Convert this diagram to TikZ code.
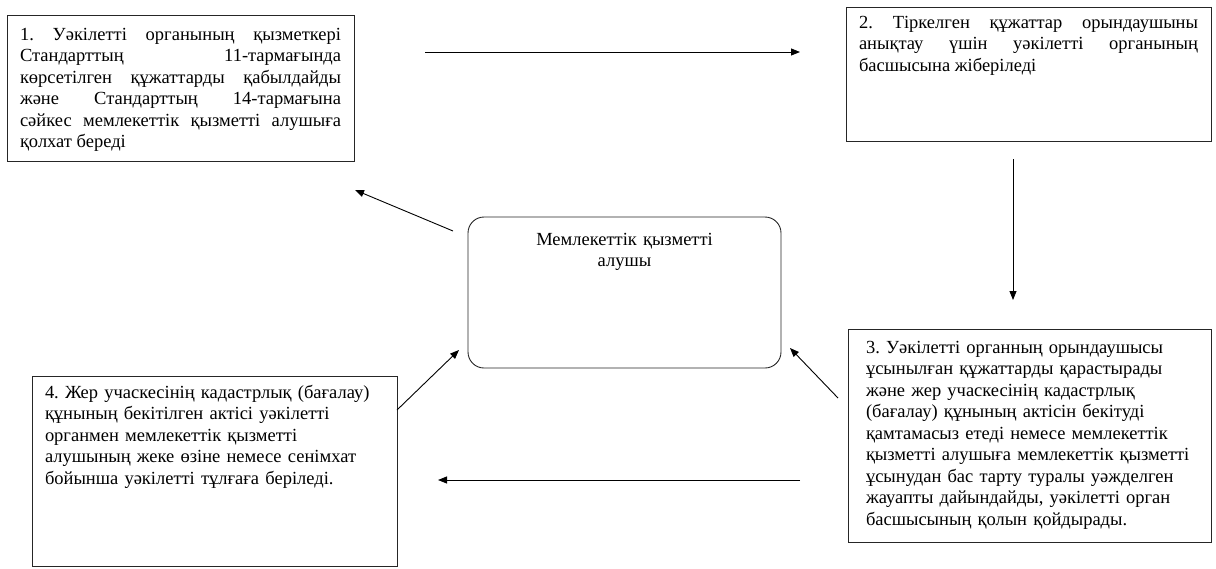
\documentclass[tikz,border=0pt]{standalone}
\usepackage{fontspec}
\setmainfont{Liberation Serif}
\usetikzlibrary{arrows.meta}

\begin{document}
\begin{tikzpicture}[x=1pt, y=-1pt, >={Triangle[length=9pt,width=7pt]},
  blk/.style={draw=black!85, line width=0.9pt, anchor=north west, outer sep=0pt,
    inner ysep=0pt, inner xsep=13pt, font=\fontsize{18.5}{21.5}\selectfont},
  lnk/.style={->, line width=0.9pt}]
\useasboundingbox (0,0) rectangle (1216,568);
\node[blk, text width=321pt, align=justify, text height=25pt, text depth=121pt] (s1) at (7,15)
  {1.\ Уәкілетті органының қызметкері\linebreak
   Стандарттың 11-тармағында\linebreak
   көрсетілген құжаттарды қабылдайды\linebreak
   және Стандарттың 14-тармағына\linebreak
   сәйкес мемлекеттік қызметті алушыға\linebreak
   қолхат береді};
\node[blk, text width=339pt, align=justify, text height=21pt, text depth=113pt] (s2) at (846,7)
  {2.\ Тіркелген құжаттар орындаушыны\linebreak
   анықтау үшін уәкілетті органының\linebreak
   басшысына жіберіледі};
\node[blk, inner xsep=2pt, text width=359pt, align=left, text height=24pt, text depth=189pt] (s3) at (848,329)
  {\hspace*{16pt}\parbox[t]{343pt}{\raggedright
   3.\ Уәкілетті органның орындаушысы\\
   ұсынылған құжаттарды қарастырады\\
   және жер учаскесінің кадастрлық\\
   (бағалау) құнының актісін бекітуді\\
   қамтамасыз етеді немесе мемлекеттік\\
   қызметті алушыға мемлекеттік қызметті\\
   ұсынудан бас тарту туралы уәжделген\\
   жауапты дайындайды, уәкілетті орган\\
   басшысының қолын қойдырады.}};
\node[blk, text width=339pt, align=left, text height=22pt, text depth=168pt] (s4) at (32,376)
  {4.\ Жер учаскесінің кадастрлық (бағалау)\\
   құнының бекітілген актісі уәкілетті\\
   органмен мемлекеттік қызметті\\
   алушының жеке өзіне немесе сенімхат\\
   бойынша уәкілетті тұлғаға беріледі.};
\node[blk, rounded corners=16pt, text width=287pt, align=center, text height=28pt, text depth=123pt] (rcv) at (468,217)
  {Мемлекеттік қызметті\\ алушы};

\draw[lnk] ([xshift=71pt,yshift=-37pt]s1.north east) -- ([xshift=-46pt,yshift=-45pt]s2.north west);
\draw[lnk] ([xshift=-15.5pt,yshift=-18pt]s2.south) -- ([xshift=-16.5pt,yshift=29pt]s3.north);
\draw[lnk] ([xshift=-48pt,yshift=-44.5pt]s3.west) -- ([xshift=41pt,yshift=-9pt]s4.east);
\draw[lnk] ([xshift=-15pt,yshift=-14pt]rcv.north west) -- ([xshift=1pt,yshift=-29pt]s1.south east);
\draw[lnk] ([yshift=-34pt]s4.north east) -- ([xshift=-9pt,yshift=18pt]rcv.south west);
\draw[lnk] ([xshift=-10pt,yshift=-69pt]s3.north west) -- ([xshift=9pt,yshift=20pt]rcv.south east);
\end{tikzpicture}
\end{document}
